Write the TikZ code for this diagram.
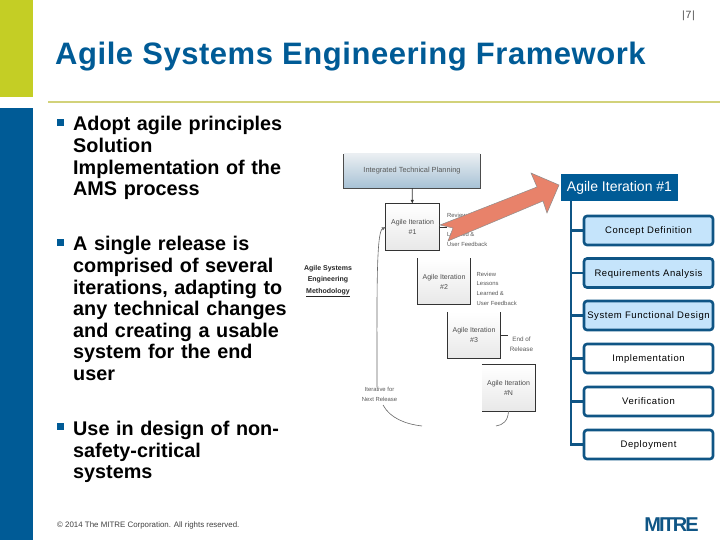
\documentclass[tikz,border=0pt]{standalone}
\usepackage{fontspec}
\setmainfont{Liberation Sans}
\newfontfamily\spaced[LetterSpace=6]{Liberation Sans}
\newfontfamily\titlefont[LetterSpace=1.75]{Liberation Sans}
\newfontfamily\logofont[LetterSpace=-10]{Liberation Sans}
\newcommand{\lowtext}[1]{\raisebox{-3.4pt}[0pt][0pt]{#1}}
\usetikzlibrary{arrows.meta}
\definecolor{mblue}{HTML}{005B96}
\definecolor{molive}{HTML}{C4CE25}
\definecolor{mrule}{HTML}{D2D27A}
\definecolor{mline}{HTML}{0F5585}
\definecolor{mlight}{HTML}{C5E4FB}
\definecolor{msalmon}{HTML}{E8826A}
\tikzset{
  px/.style={x=1pt,y=-1pt},
  bodytext/.style={anchor=north west,align=left,font=\fontsize{19.8}{21.6}\selectfont\bfseries,text=black,inner sep=0pt,text width=225pt},
  bullet/.style={fill=mblue,minimum size=7pt,inner sep=0pt},
  stagebox/.style={draw=mline,line width=2.6pt,rounded corners=3pt,minimum width=129pt,minimum height=29pt,inner sep=0pt,font=\spaced\fontsize{9.5}{11}\selectfont,text=black,fill=white},
  activebox/.style={stagebox,fill=mlight},
  iterbox/.style={minimum width=53pt,minimum height=46pt,inner sep=0pt,top color=white,bottom color=black!9,align=center,font=\fontsize{7}{10}\selectfont,text=black!70},
  smalltxt/.style={font=\fontsize{5.9}{9.7}\selectfont,text=black!65,align=left,inner sep=0pt},
  conn/.style={line width=0.8pt,draw=black!80},
  faint/.style={line width=0.6pt,draw=black!60},
  branch/.style={line width=2.6pt,draw=mline},
}
\begin{document}
\begin{tikzpicture}[px]
\useasboundingbox (0,0) rectangle (720,540);
\fill[molive] (0,0) rectangle (33,97);
\fill[mblue] (0,108) rectangle (33,540);
\fill[mrule] (48,101) rectangle (720,103);
\node[anchor=base west,inner sep=0pt,font=\titlefont\fontsize{31}{31}\selectfont\bfseries,text=mblue] (title) at (55,65) {Agile Systems Engineering Framework};
\node[anchor=base,inner sep=0pt,font=\spaced\fontsize{10.5}{10.5}\selectfont,text=black!70] (pg) at (688.5,19) {|7|};
% bullets
\node[bullet] (b1) at (60.5,122.5) {};
\node[bodytext] (t1) at (73,116.3) {Adopt agile principles\\Solution\\Implementation of the\\AMS process};
\node[bullet] (b2) at (60.5,242.5) {};
\node[bodytext] (t2) at (73,236.3) {A single release is\\comprised of several\\iterations, adapting to\\any technical changes\\and creating a usable\\system for the end\\user};
\node[bullet] (b3) at (60.5,426.5) {};
\node[bodytext] (t3) at (73,421) {Use in design of non-\\safety-critical\\systems};
\node[anchor=base west,inner sep=0pt,font=\fontsize{7.9}{8}\selectfont,text=black!75] (foot) at (57,527) {© 2014 The MITRE Corporation. All rights reserved.};
\node[anchor=base,inner sep=0pt,font=\logofont\fontsize{20}{20}\selectfont\bfseries,text=mline] (logo) at (671.5,531) {MITRE};
% methodology image
\node[minimum width=136pt,minimum height=34pt,inner sep=0pt,top color=mlight!75!black!20!white,bottom color=mlight!85!black,font=\fontsize{7.4}{9}\selectfont,text=black!65] (plan) at (412,171) {Integrated Technical Planning};
\draw[line width=0.8pt,draw=black!70] (plan.north west) -- (plan.south west) -- (plan.south east) -- (plan.north east);
\node[iterbox] (a1) at (412.5,227) {Agile Iteration\\\#1};
\draw[conn] (a1.north west) rectangle (a1.south east);
\node[iterbox] (a2) at (444,281.5) {Agile Iteration\\\#2};
\draw[conn] (a2.north west) -- (a2.south west) -- (a2.south east) -- (a2.north east);
\node[iterbox] (a3) at (474,335) {Agile Iteration\\\#3};
\draw[conn] (a3.north west) -- (a3.south west) -- (a3.south east) -- (a3.north east);
\node[iterbox] (a4) at (508.5,388) {Agile Iteration\\\#N};
\draw[conn] (a4.north west) -- (a4.north east) -- (a4.south east) -- (a4.south west);
\draw[conn,-{Latex[length=4pt,width=3.5pt]}] (plan) -- (a1);
\node[smalltxt,anchor=west] (f1) at (447,229.5) {Review\\Lessons\\Learned \&\\User Feedback};
\node[smalltxt,anchor=west] (f2) at (476.5,288.5) {Review\\Lessons\\Learned \&\\User Feedback};
\node[smalltxt,anchor=center,align=center,font=\fontsize{6.3}{10}\selectfont] (f3) at (521.5,344) {End of\\Release};
\node[smalltxt,align=center] (iter) at (379.5,394.5) {Iterative for\\Next Release};
\node[font=\fontsize{7}{11.5}\selectfont\bfseries,align=center,inner sep=0pt,text=black!85] (meth) at (328,281) {Agile Systems\\Engineering\\\underline{Methodology}};
\draw[conn] (a1.east) -- (a1.east -| f1.west);
\draw[conn] (a3.east) -- ([xshift=-1.5pt]a3.east -| f3.west);
\coordinate (c1) at (383,405);
\coordinate (c2) at (422,426);
\coordinate (c3) at (496,426);
\draw[faint,-{Latex[length=4pt,width=3.5pt]}] (iter.north -| 377,0) .. controls (377,300) and (376,232) .. (a1.west);
\draw[faint] (c1) .. controls (390,418) and (405,424) .. (c2);
\draw[faint] (c3) .. controls (503,425) and (508,421) .. (a4.south);
% arrow
\draw[fill=msalmon,draw=black!45,line width=0.5pt] (440,225) -- (537,187) -- (531,173) -- (559,185) -- (547,213) -- (543,201) -- (448,241) -- (453,228) -- cycle;
% right tree
\node[fill=mblue,text=white,minimum width=117pt,minimum height=27pt,inner sep=0pt,font=\fontsize{14}{14}\selectfont] (hd) at (619.5,187.5) {Agile Iteration \#1};
\node[activebox] (s1) at (648.5,230.5) {\lowtext{Concept Definition}};
\node[activebox] (s2) at (648.5,273) {\lowtext{Requirements Analysis}};
\node[activebox] (s3) at (648.5,315.5) {\lowtext{System Functional Design}};
\node[stagebox] (s4) at (648.5,358.5) {\lowtext{Implementation}};
\node[stagebox] (s5) at (648.5,401.5) {\lowtext{Verification}};
\node[stagebox] (s6) at (648.5,444.5) {\lowtext{Deployment}};
\coordinate (tr) at (571,201);
\draw[branch] (tr) |- (s6.west);
\foreach \n in {s1,s2,s3,s4,s5} \draw[branch] (tr |- \n.west) -- (\n.west);
\end{tikzpicture}
\end{document}
